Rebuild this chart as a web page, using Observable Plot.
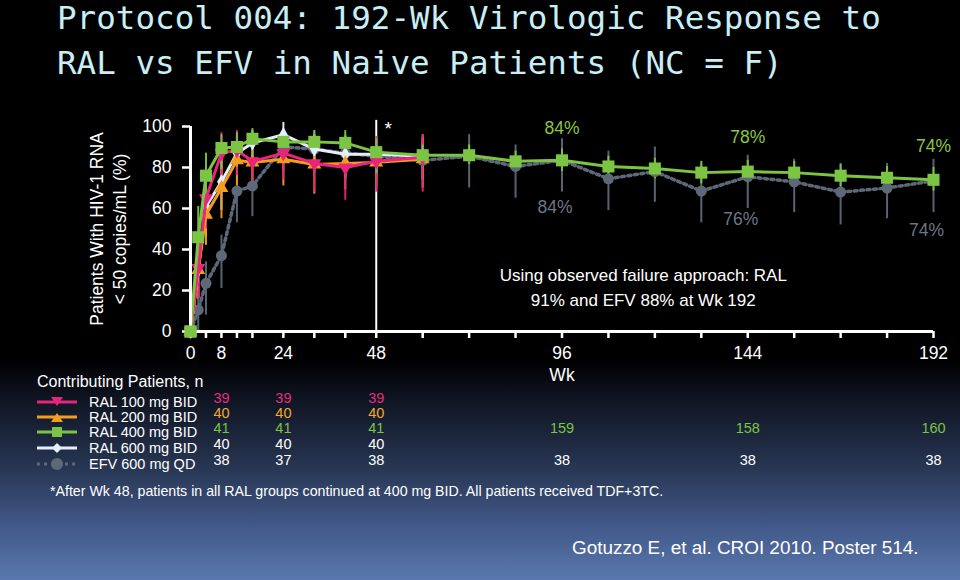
<!DOCTYPE html>
<html>
<head>
<meta charset="utf-8">
<script src="https://cdn.jsdelivr.net/npm/d3@7"></script>
<script src="https://cdn.jsdelivr.net/npm/@observablehq/plot@0.6"></script>
<style>
html,body{margin:0;padding:0}
body{width:960px;height:580px;overflow:hidden;position:relative;
  background:linear-gradient(to bottom,#000 0%,#000 62%,#0f1523 69%,#263450 80%,#42598a 91%,#5a78ad 100%);
  font-family:"Liberation Sans",Arial,sans-serif;color:#fff}
.abs{position:absolute;white-space:nowrap}
#title{left:57px;top:-4px;font-family:"DejaVu Sans Mono",monospace;font-size:32.6px;line-height:45px;color:#c8eef6}
#chart{left:0;top:100px}
#legendHead{left:37px;top:372px;font-size:16px;line-height:20px}
.lrow{position:absolute;left:37px;height:16px;line-height:16px;font-size:14.5px;display:flex;align-items:center}
.lrow svg{margin-right:12px}
#note{left:50px;top:482px;font-size:14.2px;line-height:18px}
#cite{left:572px;top:537px;font-size:18.9px;line-height:22px}
</style>
</head>
<body>
<div id="title" class="abs"></div>
<div id="chart" class="abs"></div>
<div id="legendHead" class="abs"></div>
<div id="legend"></div>
<div id="note" class="abs"></div>
<div id="cite" class="abs"></div>
<script>
// ---------- text ----------
const titleLines = ["Protocol 004: 192-Wk Virologic Response to", "RAL vs EFV in Naive Patients (NC = F)"];
const yTitle = ["Patients With HIV-1 RNA", "< 50 copies/mL (%)"];
const xTitle = "Wk";
const legendTitle = "Contributing Patients, n";
const noteText = "Using observed failure approach: RAL\n91% and EFV 88% at Wk 192";
const footnote = "*After Wk 48, patients in all RAL groups continued at 400 mg BID. All patients received TDF+3TC.";
const citation = "Gotuzzo E, et al. CROI 2010. Poster 514.";

// ---------- axes ----------
const xTicks = [0,4,8,12,16,24,32,40,48,60,72,84,96,108,120,132,144,156,168,180,192];
const xTickLabels = [0,8,24,48,96,144,192];
const yTicks = [0,20,40,60,80,100];

// ---------- data ----------
const weeksDose = [0,2,4,8,12,16,24,32,40,48,60];
const weeksAll  = [0,2,4,8,12,16,24,32,40,48,60,72,84,96,108,120,132,144,156,168,180,192];

const ral100   = [0,31,65,87,88.5,83,87,82,80,83,85];
const ral100Lo = [0,16,50,74,76,70,74,68,64,68,68];
const ral100Hi = [0,47,79,97,98,95,97,93,91,95,96];

const ral200   = [0,30,57,70,83.5,82.5,84,81.5,82,82.5,84];
const ral200Lo = [0,16,42,55,71,70,71,67,69,70,70];
const ral200Hi = [0,45,71,83,93,92,94,92,92,93,96];

const ral600   = [0,30,61,73,87,92,96,89,86.5,86.5,85.5];
const ral600Lo = [0,16,46,59,76,82,85,79,75,75,74];
const ral600Hi = [0,45,75,85,95,98,102,96,95,95,94];

const ral400   = [0,46,76,89.5,90,94,92.5,92.5,92,87.5,86,86,83,83.5,80.5,79.5,77.5,78,77.5,76,75,74];
const ral400Lo = [0,31,63,79,80,85,83,83,82,77,81,81.5,78,78,75.5,74.5,72,72.5,72,70.5,69.5,68.5];
const ral400Hi = [0,61,87,96,97,99,98,98,98,94,91,91,88,89,85.5,84.5,83,83.5,83,81.5,80.5,80];

const efv   = [0,10.5,23.5,37,68.5,71,90,89,87,85.5,83.5,85.5,80.5,83.5,74.5,78,68.5,75.5,73,68,70,73.5];
const efvLo = [0,0,8,21,53,56,78,77,74,72,70,70,65,68,59,63,53,60,58,52,55,58];
const efvHi = [0,22,34,47,81,84,99,98,96,95,95,96,91,94,88,90,82,86,84,82,82,84];

const seriesNames = ["RAL 100 mg BID","RAL 200 mg BID","RAL 400 mg BID","RAL 600 mg BID","EFV 600 mg QD"];

// contributing patients table
const countWeeks = [8,24,48,96,144,192];
const nRal100 = [39,39,39,null,null,null];
const nRal200 = [40,40,40,null,null,null];
const nRal400 = [41,41,41,159,158,160];
const nRal600 = [40,40,40,null,null,null];
const nEfv    = [38,37,38,38,38,38];

// callouts
const calloutWeeks = [96,144,192];
const calloutRal = ["84%","78%","74%"];
const calloutRalY = [99,94.5,90.5];
const calloutEfv = ["84%","76%","74%"];
const calloutEfvY = [60.5,54.5,49.5];

const switchWeek = 48;

// ---------- styles ----------
const C_PINK = "#e8247c", C_ORANGE = "#f39c1f", C_GREEN = "#7cc443", C_WHITE = "#e6eefc", C_GREY = "#5d6878";
const triangleDown = {draw(ctx, size){const y=-Math.sqrt(size/(Math.sqrt(3)*3));ctx.moveTo(0,-y*2);ctx.lineTo(-Math.sqrt(3)*y,y);ctx.lineTo(Math.sqrt(3)*y,y);ctx.closePath();}};

function table(weeks, v, lo, hi){return weeks.map((w,i)=>({week:w, value:v[i], lo:lo[i], hi:hi[i]}));}
const series = [
  {name:seriesNames[4], data:table(weeksAll, efv, efvLo, efvHi), color:C_GREY, symbol:"circle", r:5.5, dash:"3,3.5", lw:3.5},
  {name:seriesNames[3], data:table(weeksDose, ral600, ral600Lo, ral600Hi), color:C_WHITE, symbol:"diamond", r:4.6, dash:null, lw:3},
  {name:seriesNames[1], data:table(weeksDose, ral200, ral200Lo, ral200Hi), color:C_ORANGE, symbol:"triangle", r:5.2, dash:null, lw:3},
  {name:seriesNames[0], data:table(weeksDose, ral100, ral100Lo, ral100Hi), color:C_PINK, symbol:triangleDown, r:5.2, dash:null, lw:3},
  {name:seriesNames[2], data:table(weeksAll, ral400, ral400Lo, ral400Hi), color:C_GREEN, symbol:"square", r:6.8, dash:null, lw:3}
];

const marks = [];
marks.push(Plot.ruleX([switchWeek], {y1: 0, y2: 103, stroke: "#fff", strokeWidth: 2}));
marks.push(Plot.text(["*"], {x: [switchWeek], y: [99], dx: 12, fontSize: 19, fill: "#fff"}));
for (const s of series) {
  marks.push(Plot.ruleX(s.data, {x: "week", y1: "lo", y2: "hi", stroke: s.color, strokeWidth: 2, strokeOpacity: 0.95}));
}
for (const s of series) {
  marks.push(Plot.line(s.data, {x: "week", y: "value", stroke: s.color, strokeWidth: s.lw, strokeDasharray: s.dash, strokeLinecap: s.dash ? "round" : "butt"}));
  marks.push(Plot.dot(s.data, {x: "week", y: "value", symbol: s.symbol, r: s.r, fill: s.color, stroke: "none"}));
}
// axes
marks.push(Plot.axisY({ticks: yTicks, tickSize: 8, tickPadding: 11, fontSize: 17.5, strokeWidth: 2.5, label: null}));
marks.push(Plot.axisX({ticks: xTicks, tickFormat: d => xTickLabels.includes(d) ? String(d) : "", tickSize: 7, tickPadding: 8, fontSize: 17.5, strokeWidth: 2.5, label: null}));
marks.push(Plot.ruleY([0], {stroke: "#fff", strokeWidth: 3}));
marks.push(Plot.ruleX([0], {y1: 0, y2: 100, stroke: "#fff", strokeWidth: 3}));
// re-draw origin square on top of axes
marks.push(Plot.dot(series[4].data.slice(0,1), {x: "week", y: "value", symbol: "square", r: 6.8, fill: C_GREEN}));
// axis titles
marks.push(Plot.text([yTitle[0]], {frameAnchor: "left", textAnchor: "middle", dx: -93, rotate: -90, fontSize: 17.5, fill: "#fff"}));
marks.push(Plot.text([yTitle[1]], {frameAnchor: "left", textAnchor: "middle", dx: -70, rotate: -90, fontSize: 17.5, fill: "#fff"}));
marks.push(Plot.text([xTitle], {x: [96], frameAnchor: "bottom", dy: 49, fontSize: 17.5, fill: "#fff"}));
// callouts
marks.push(Plot.text(calloutRal, {x: calloutWeeks, y: calloutRalY, fontSize: 17.5, fill: "#8dc63f"}));
marks.push(Plot.text(calloutEfv, {x: calloutWeeks, y: calloutEfvY, dx: -7, fontSize: 17.5, fill: "#6c7687"}));
marks.push(Plot.text([noteText], {x: [117], y: [22.5], fontSize: 17, lineHeight: 1.45, fill: "#fff"}));
// counts table
const countRows = [
  {n: nRal100, color: "#e0307e", dy: 71},
  {n: nRal200, color: "#f2a82a", dy: 86},
  {n: nRal400, color: "#7cc443", dy: 101},
  {n: nRal600, color: "#ffffff", dy: 117},
  {n: nEfv,    color: "#ffffff", dy: 133}
];
for (const row of countRows) {
  const d = countWeeks.map((w,i)=>({week:w, n:row.n[i]})).filter(e=>e.n!=null);
  marks.push(Plot.text(d, {x: "week", text: "n", frameAnchor: "bottom", dy: row.dy, fontSize: 14.5, fill: row.color}));
}

const plot = Plot.plot({
  width: 960, height: 400,
  marginLeft: 190, marginRight: 27, marginTop: 26, marginBottom: 169,
  style: {background: "transparent", color: "#fff", fontFamily: "Liberation Sans, Arial, sans-serif", fontSize: "17.5px", overflow: "visible"},
  x: {domain: [0,192]},
  y: {domain: [0,100]},
  marks
});
document.getElementById("chart").appendChild(plot);

// ---------- HTML text ----------
document.getElementById("title").innerHTML = titleLines.join("<br>");
document.getElementById("legendHead").textContent = legendTitle;
document.getElementById("note").textContent = footnote;
document.getElementById("cite").textContent = citation;

// legend rows
const legendStyles = [
  {color:C_PINK, marker:"tdown", dash:null},
  {color:C_ORANGE, marker:"tup", dash:null},
  {color:C_GREEN, marker:"square", dash:null},
  {color:C_WHITE, marker:"diamond", dash:null},
  {color:C_GREY, marker:"circle", dash:"3,4"}
];
const rowCenters = [402,417,432,448,464];
const legend = document.getElementById("legend");
seriesNames.forEach((name,i)=>{
  const st = legendStyles[i];
  let m = "";
  if (st.marker==="tdown") m = `<path d="M14,2 L26,2 L20,11 Z" fill="${st.color}"/>`;
  if (st.marker==="tup") m = `<path d="M14,12 L26,12 L20,3 Z" fill="${st.color}"/>`;
  if (st.marker==="square") m = `<rect x="15" y="2" width="10" height="10" fill="${st.color}"/>`;
  if (st.marker==="diamond") m = `<path d="M20,2 L25,7 L20,12 L15,7 Z" fill="${st.color}"/>`;
  if (st.marker==="circle") m = `<circle cx="20" cy="7" r="6" fill="${st.color}"/>`;
  const dash = st.dash ? `stroke-dasharray="${st.dash}"` : "";
  const div = document.createElement("div");
  div.className = "lrow";
  div.style.top = (rowCenters[i]-8) + "px";
  div.innerHTML = `<svg width="40" height="14"><line x1="0" y1="7" x2="40" y2="7" stroke="${st.color}" stroke-width="3" ${dash}/>${m}</svg><span>${name}</span>`;
  legend.appendChild(div);
});
</script>
</body>
</html>
